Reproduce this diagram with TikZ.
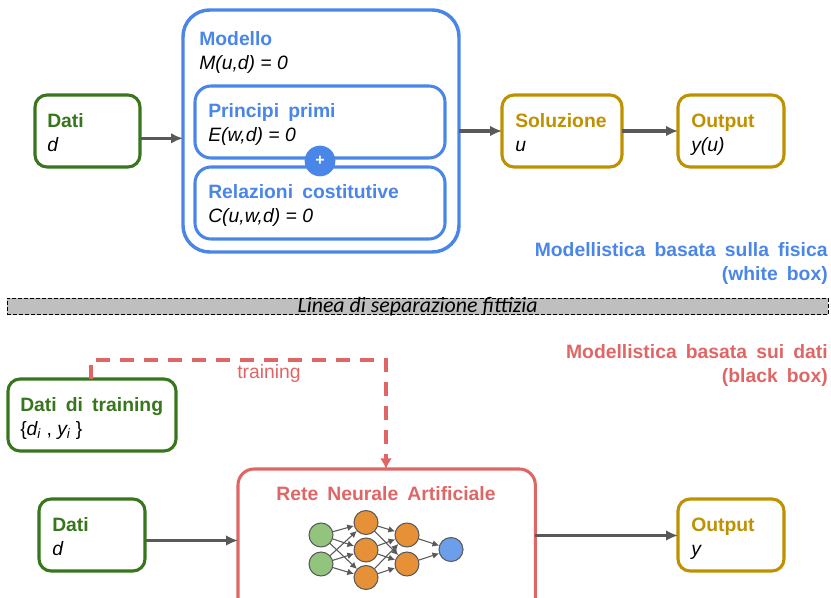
\documentclass[tikz,border=0pt]{standalone}
\usepackage{fontspec}
\setmainfont{Liberation Sans}[BoldFeatures={WordSpace=1.7}]
\newfontfamily\sepfont{Carlito}
\usetikzlibrary{arrows.meta}

\definecolor{modelblue}{HTML}{4A86E8}
\definecolor{datagreen}{HTML}{38761D}
\definecolor{solgold}{HTML}{BF9000}
\definecolor{netred}{HTML}{E06666}
\definecolor{flowgray}{HTML}{595959}
\definecolor{inputgreen}{HTML}{93C47D}
\definecolor{hiddenorange}{HTML}{E69138}
\definecolor{outblue}{HTML}{6D9EEB}

\tikzset{
  box/.style={draw, line width=2.3pt, rounded corners=9pt, fill=white,
              anchor=north west, inner sep=0pt, outer sep=0pt, text width=#1, minimum height=54pt},
  datobox/.style={box=#1, draw=datagreen},
  solbox/.style={box=#1, draw=solgold},
  modelbox/.style={box=#1, draw=modelblue, rounded corners=12pt},
  boxtxt/.style={anchor=west, align=left, inner sep=0pt, execute at begin node=\strut, execute at end node=\strut},
  flow/.style={-{Latex[length=9pt,width=8pt]}, draw=flowgray, line width=2.4pt},
  txt/.style={font=\fontsize{14.5}{18}\selectfont},
  neuron/.style={circle, draw=flowgray, line width=0.8pt, minimum size=18pt, inner sep=0pt},
  nnedge/.style={-{Latex[length=5pt,width=5pt]}, draw=flowgray, line width=0.8pt},
}

\newcommand{\titolo}[2]{\textcolor{#1}{\textbf{#2}}}

\begin{document}
\begin{tikzpicture}[x=0.75pt, y=-0.75pt, txt]
  \useasboundingbox (0,0) rectangle (831,598);
  \clip (0,0) rectangle (831,598);

  % fisica
  \node[datobox=78.75pt] (dati) at (35,95) {};
  \node[boxtxt] (datitxt) at (47,136) {\titolo{datagreen}{Dati}\\ \textit{d}};

  \node[modelbox=207pt, minimum height=181.5pt, rounded corners=20pt, line width=2.6pt] (modello) at (183,10) {};
  \node[boxtxt] (modellotxt) at (199,54) {\titolo{modelblue}{Modello}\\ \textit{M(u,d) = 0}};

  \node[modelbox=187.5pt] (principi) at (195,86) {};
  \node[boxtxt] (principitxt) at (208,126) {\titolo{modelblue}{Principi primi}\\ \textit{E(w,d) = 0}};

  \node[modelbox=187.5pt] (relazioni) at (195,167) {};
  \node[boxtxt] (relazionitxt) at (208,207) {\titolo{modelblue}{Relazioni costitutive}\\ \textit{C(u,w,d) = 0}};

  \node[circle, fill=modelblue, text=white, minimum size=23pt, inner sep=0pt, font=\bfseries\fontsize{12}{12}\selectfont] (piu) at (320,161) {+};

  \node[solbox=90pt] (soluzione) at (502,95) {};
  \node[boxtxt] (soluzionetxt) at (515,136) {\titolo{solgold}{Soluzione}\\ \textit{u}};

  \node[solbox=79.5pt] (output) at (678,95) {};
  \node[boxtxt] (outputtxt) at (691,136) {\titolo{solgold}{Output}\\ \textit{y(u)}};

  \draw[flow] ([yshift=-5.5pt]dati.east) -- ([yshift=-5.5pt]modello.west |- dati.east);
  \draw[flow] (modello.east |- soluzione.west) -- (soluzione.west);
  \draw[flow] (soluzione.east) -- (output.west);

  \node[anchor=north east, align=right, inner sep=0pt] (fisica) at (828,242)
    {\titolo{modelblue}{Modellistica basata sulla fisica}\\ \titolo{modelblue}{(white box)}};

  % separazione
  \node[draw=black, fill=black!25, line width=0.5pt, dash pattern=on 3pt off 1.5pt, anchor=north west,
        minimum width=616pt, minimum height=12.5pt, inner sep=0pt, outer sep=0pt] (linea) at (7,298) {};
  \node[inner sep=0pt, font=\sepfont\itshape\fontsize{16.4}{16.4}\selectfont] (lineatxt) at (linea.center) {Linea di separazione fittizia};

  % dati
  \node[anchor=north east, align=right, inner sep=0pt] (basata) at (828,344)
    {\titolo{netred}{Modellistica basata sui dati}\\ \titolo{netred}{(black box)}};

  \node[datobox=126pt] (training) at (8,379) {};
  \node[boxtxt] (trainingtxt) at (20,420) {\titolo{datagreen}{Dati di training}\\ \{\textit{d\textsubscript{i}} , \textit{y\textsubscript{i}} \}};

  \node[datobox=79.5pt] (datib) at (39,499) {};
  \node[boxtxt] (datibtxt) at (52,540) {\titolo{datagreen}{Dati}\\ \textit{d}};

  \node[box=223pt, draw=netred, minimum height=130pt, rounded corners=12pt] (rete) at (238,469) {};
  \node[inner sep=0pt] (retetxt) at (386,494) {\titolo{netred}{Rete Neurale Artificiale}};

  \node[solbox=79.5pt] (outputb) at (678,499) {};
  \node[boxtxt] (outputbtxt) at (691,540) {\titolo{solgold}{Output}\\ \textit{y}};

  \coordinate (svolta) at (386,360);
  \coordinate (partenza) at (91,379);
  \draw[draw=netred, line width=3pt, dash pattern=on 10.5pt off 7.5pt, -{Latex[length=8pt,width=9pt]}]
    (partenza) |- (svolta) -- (rete.north -| svolta);
  \node[inner sep=0pt, text=netred] (trainlab) at (269,374) {training};

  \coordinate (d1) at (145,540.5);
  \draw[flow] (d1) -- (rete.west |- d1);
  \coordinate (r1) at (535,535.5);
  \draw[flow] (r1) -- (outputb.west |- r1);

  % rete neurale
  \foreach \name/\x/\y in {i1/321/535, i2/321/564}
    \node[neuron, fill=inputgreen] (\name) at (\x,\y) {};
  \foreach \name/\x/\y in {h1/366/522.5, h2/366/550, h3/366/577.5, k1/407/535, k2/407/564}
    \node[neuron, fill=hiddenorange] (\name) at (\x,\y) {};
  \node[neuron, fill=outblue] (u1) at (451,549.5) {};

  \foreach \a in {i1,i2}
    \foreach \b in {h1,h2,h3}
      \draw[nnedge] (\a) -- (\b);
  \foreach \a in {h1,h2,h3}
    \foreach \b in {k1,k2}
      \draw[nnedge] (\a) -- (\b);
  \foreach \a in {k1,k2}
    \draw[nnedge] (\a) -- (u1);
\end{tikzpicture}
\end{document}
